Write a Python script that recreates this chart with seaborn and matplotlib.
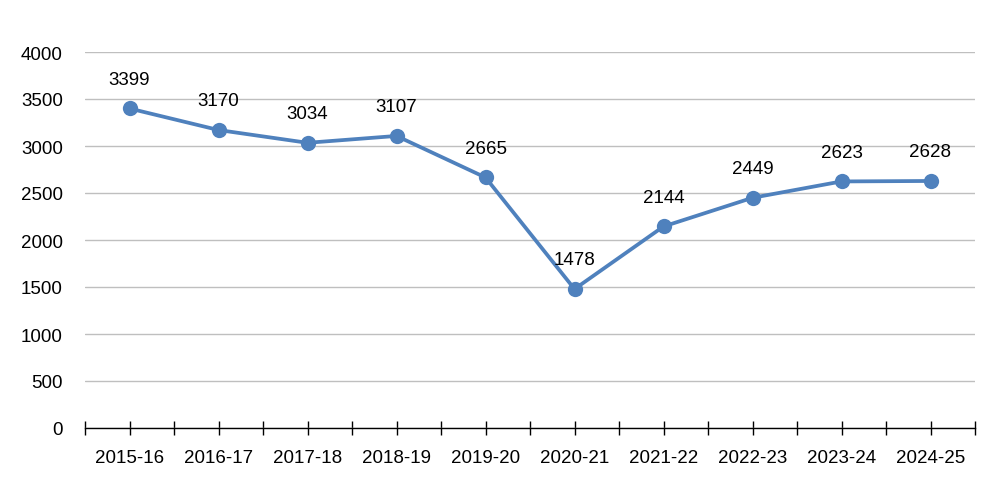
import matplotlib
matplotlib.use("Agg")
import matplotlib.pyplot as plt
import seaborn as sns
import pandas as pd
import numpy as np

years = ["2015-16", "2016-17", "2017-18", "2018-19", "2019-20",
         "2020-21", "2021-22", "2022-23", "2023-24", "2024-25"]
values = [3399, 3170, 3034, 3107, 2665, 1478, 2144, 2449, 2623, 2628]
yticks = [0, 500, 1000, 1500, 2000, 2500, 3000, 3500, 4000]

sns.set_theme(style="white")
plt.rcParams['font.family'] = ['Liberation Sans', 'DejaVu Sans']
plt.rcParams['text.color'] = 'black'
plt.rcParams['xtick.color'] = 'black'
plt.rcParams['ytick.color'] = 'black'

df = pd.DataFrame({"year": years, "value": values, "idx": range(len(years))})

fig = plt.figure(figsize=(10.04, 5.02), dpi=100)
ax = fig.add_axes([85/1004, 1-429/502, 890/1004, 376/502])

color = "#4F81BD"
sns.lineplot(data=df, x="idx", y="value", ax=ax, color=color, linewidth=2.7,
             marker="o", markersize=11, markeredgewidth=0, markerfacecolor=color)

for i, v in zip(df["idx"], df["value"]):
    ax.annotate(str(v), (i, v), xytext=(0, 15), textcoords="offset points",
                ha="center", va="bottom", fontsize=13.5, color="black")

ax.set_xlim(-0.5, len(years) - 0.5)
ax.set_ylim(0, 4000)
ax.set_yticks(yticks)
ax.set_yticklabels([str(t) for t in yticks], fontsize=13.5)
ax.set_xticks(range(len(years)))
ax.set_xticklabels(years, fontsize=13.5)
ax.set_xticks(np.arange(-0.5, len(years), 1.0), minor=True)
ax.tick_params(axis="x", which="major", bottom=True, direction="inout", length=10,
               width=1, color="black", pad=10)
ax.tick_params(axis="x", which="minor", bottom=True, direction="inout", length=10, width=1, color="black")
ax.tick_params(axis="y", left=True, length=0, pad=16)
ax.yaxis.grid(True, color="#BFBFBF", linewidth=1)
ax.set_axisbelow(True)
for s in ["top", "right", "left"]:
    ax.spines[s].set_visible(False)
ax.spines["bottom"].set_color("black")
ax.spines["bottom"].set_linewidth(1)
ax.set_xlabel("")
ax.set_ylabel("")

fig.savefig("out.png", dpi=100)
